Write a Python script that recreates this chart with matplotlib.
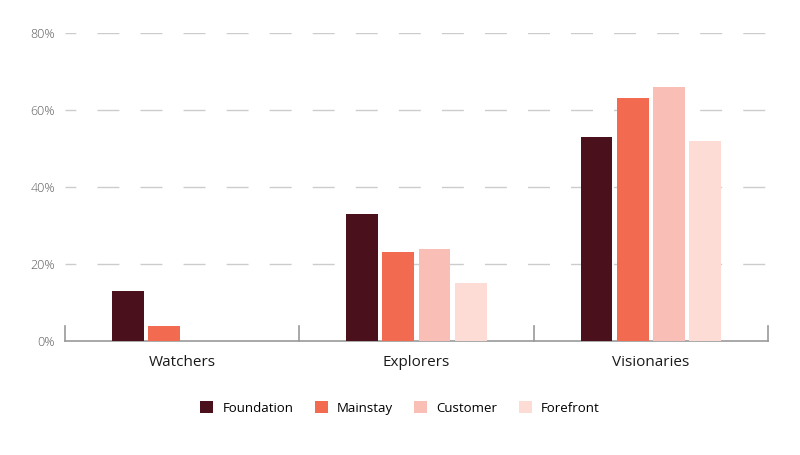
import matplotlib
matplotlib.use("Agg")
import matplotlib.pyplot as plt
import numpy as np

plt.rcParams['font.family'] = ['Open Sans', 'DejaVu Sans']

groups = ["Watchers", "Explorers", "Visionaries"]
series = ["Foundation", "Mainstay", "Customer", "Forefront"]
foundation = [13, 33, 53]
mainstay = [4, 23, 63]
customer = [0, 24, 66]
forefront = [0, 15, 52]
yticks = [0, 20, 40, 60, 80]
ytick_labels = ["0%", "20%", "40%", "60%", "80%"]

colors = ["#4a111d", "#f26b50", "#f9bfb7", "#fcdcd5"]
values = [foundation, mainstay, customer, forefront]

fig = plt.figure(figsize=(8, 4.55), dpi=100)
ax = fig.add_axes([0.081, 0.2505, 0.879, 0.677])

x = np.arange(len(groups))
step = 0.1545
width = 0.136
for i, (name, vals, c) in enumerate(zip(series, values, colors)):
    ax.bar(x + (i - 1.5) * step, vals, width, color=c, label=name, zorder=3)

ax.set_xlim(-0.5, 2.5)
ax.set_ylim(0, 80)
ax.set_yticks(yticks)
ax.set_yticklabels(ytick_labels, color="#5a5a5a", fontsize=9, fontweight="light")
ax.tick_params(axis="y", length=0, pad=7)
ax.set_xticks(x)
ax.set_xticklabels(groups, fontsize=11, color="#1a1a1a")
ax.tick_params(axis="x", length=0, pad=10)

# long dashes, first one cut short like the original
for y in yticks[1:]:
    ax.axhline(y, color="#cccccc", lw=1, linestyle=(8, (15.8, 15.2)), zorder=1)

for s in ["top", "right", "left"]:
    ax.spines[s].set_visible(False)
ax.spines["bottom"].set_color("#999999")
ax.spines["bottom"].set_linewidth(1.2)

# small separators between groups
for sx in [-0.5, 0.5, 1.5, 2.5]:
    ax.plot([sx, sx], [0, 4], color="#999999", lw=1.2, clip_on=False, zorder=2)

fig.legend(loc="center", bbox_to_anchor=(0.5, 0.103), ncol=4, frameon=False,
           fontsize=9.5, handlelength=1.0, handleheight=1.0, columnspacing=1.6,
           handletextpad=0.7)

fig.savefig("out.png", dpi=100)
